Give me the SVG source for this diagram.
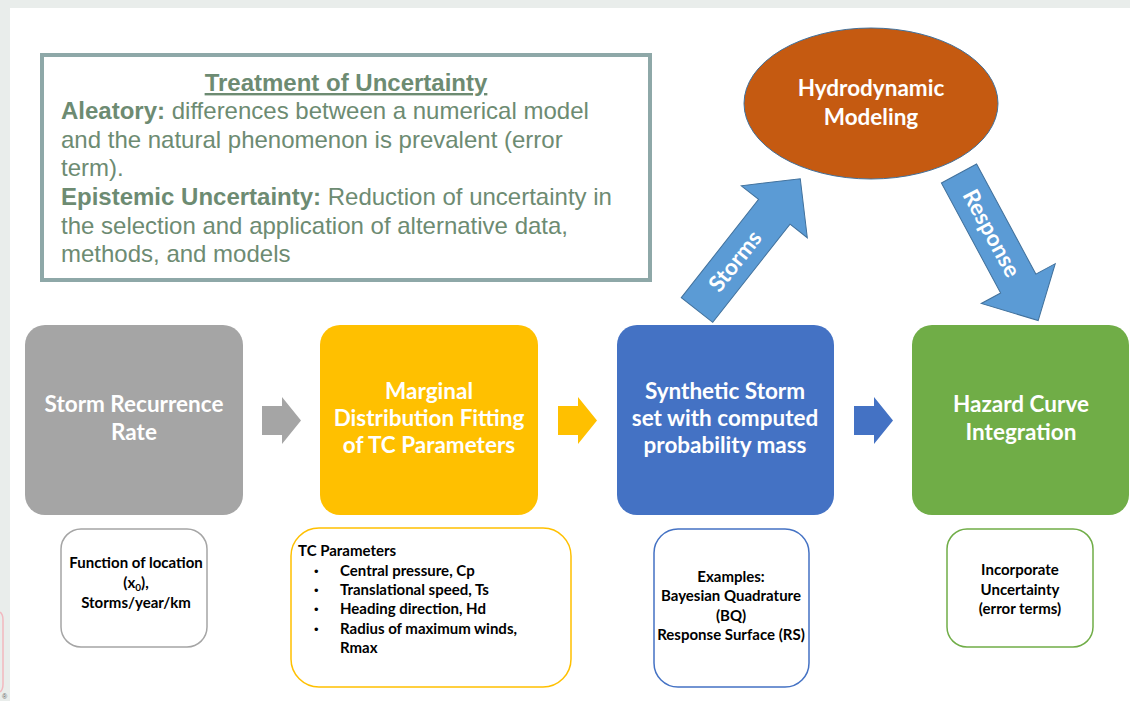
<svg xmlns="http://www.w3.org/2000/svg" width="1130" height="701" viewBox="0 0 1130 701">
<style>
.unc{font-family:"Liberation Sans",Arial,sans-serif;font-size:24px;fill:#6d8b72}
.b{font-weight:bold}
.hd{font-family:Lato,"Liberation Sans",sans-serif;font-weight:bold;font-size:22.5px;fill:#ffffff;text-anchor:middle}
.sm{font-family:Lato,"Liberation Sans",sans-serif;font-weight:bold;font-size:15px;fill:#000000}
.bul{font-family:"Liberation Sans",sans-serif;font-size:13px;fill:#000000}
.mid{text-anchor:middle}
.bar{fill:#5b9bd5;stroke:#41719c;stroke-width:1}
</style>
<defs>
<polygon id="bigArrow" points="0,-20 125,-20 125,-42 167,0 125,42 125,20 0,20"/>
<polygon id="smallArrow" points="0,-14.5 20,-14.5 20,-23.5 39,0 20,23.5 20,14.5 0,14.5"/>
</defs>
<rect x="0" y="0" width="1130" height="701" fill="#e9edeb"/>
<rect x="10" y="8" width="1120" height="693" fill="#ffffff"/>
<path d="M0,612 Q3,614 3,620 L3,684 Q3,690 0,692" fill="none" stroke="#f2b8bf" stroke-width="1.5"/>
<text x="2" y="699" font-family="Liberation Sans,sans-serif" font-size="7" fill="#666666">®</text>

<g id="uncertainty">
<rect x="42" y="55" width="608" height="225" fill="#ffffff" stroke="#8ea8a8" stroke-width="4"/>
<text class="unc b mid" x="346" y="91" text-decoration="underline">Treatment of Uncertainty</text>
<text class="unc" x="61" y="119"><tspan class="b">Aleatory:</tspan> differences between a numerical model</text>
<text class="unc" x="61" y="148">and the natural phenomenon is prevalent (error</text>
<text class="unc" x="61" y="176">term).</text>
<text class="unc" x="61" y="205"><tspan class="b">Epistemic Uncertainty:</tspan> Reduction of uncertainty in</text>
<text class="unc" x="61" y="234">the selection and application of alternative data,</text>
<text class="unc" x="61" y="262">methods, and models</text>
</g>

<g id="hydro">
<ellipse cx="871" cy="103.5" rx="127" ry="75.5" fill="#c55a11" stroke="#41719c" stroke-width="1"/>
<text class="hd" x="871" y="96" font-size="21.6">Hydrodynamic</text>
<text class="hd" x="871" y="125" font-size="21.6">Modeling</text>
</g>

<g id="storm-rate">
<rect x="25" y="325" width="218" height="190" rx="20" fill="#a5a5a5"/>
<text class="hd" x="134" y="412">Storm Recurrence</text>
<text class="hd" x="134" y="440">Rate</text>
</g>
<g id="marginal">
<rect x="320" y="325" width="218" height="190" rx="20" fill="#ffc000"/>
<text class="hd" x="429" y="399">Marginal</text>
<text class="hd" x="429" y="426">Distribution Fitting</text>
<text class="hd" x="429" y="453">of TC Parameters</text>
</g>
<g id="synthetic">
<rect x="617" y="325" width="217" height="190" rx="20" fill="#4472c4"/>
<text class="hd" x="725" y="399">Synthetic Storm</text>
<text class="hd" x="725" y="426">set with computed</text>
<text class="hd" x="725" y="453">probability mass</text>
</g>
<g id="hazard">
<rect x="912" y="325" width="217" height="190" rx="20" fill="#70ad47"/>
<text class="hd" x="1021" y="412">Hazard Curve</text>
<text class="hd" x="1021" y="440">Integration</text>
</g>

<g id="note-rate">
<rect x="61" y="529" width="146" height="118" rx="20" fill="#ffffff" stroke="#a5a5a5" stroke-width="1.5"/>
<text class="sm mid" x="136" y="568">Function of location</text>
<text class="sm mid" x="136" y="588">(x<tspan font-size="10" dy="3">0</tspan><tspan dy="-3">),</tspan></text>
<text class="sm mid" x="136" y="608">Storms/year/km</text>
</g>
<g id="note-tc">
<rect x="291" y="528" width="280" height="159" rx="28" fill="#ffffff" stroke="#ffc000" stroke-width="1.5"/>
<text class="sm" x="298" y="556">TC Parameters</text>
<text class="bul" x="314" y="576">•</text><text class="sm" x="340" y="576">Central pressure, Cp</text>
<text class="bul" x="314" y="595">•</text><text class="sm" x="340" y="595">Translational speed, Ts</text>
<text class="bul" x="314" y="614">•</text><text class="sm" x="340" y="614">Heading direction, Hd</text>
<text class="bul" x="314" y="634">•</text><text class="sm" x="340" y="634">Radius of maximum winds,</text>
<text class="sm" x="340" y="653">Rmax</text>
</g>
<g id="note-examples">
<rect x="654" y="529" width="155" height="158" rx="24" fill="#ffffff" stroke="#4472c4" stroke-width="1.5"/>
<text class="sm mid" x="731" y="582">Examples:</text>
<text class="sm mid" x="731" y="601">Bayesian Quadrature</text>
<text class="sm mid" x="731" y="621">(BQ)</text>
<text class="sm mid" x="731" y="640">Response Surface (RS)</text>
</g>
<g id="note-hazard">
<rect x="947" y="529" width="146" height="118" rx="20" fill="#ffffff" stroke="#70ad47" stroke-width="1.5"/>
<text class="sm mid" x="1020" y="575">Incorporate</text>
<text class="sm mid" x="1020" y="595">Uncertainty</text>
<text class="sm mid" x="1020" y="614">(error terms)</text>
</g>

<g id="connectors">
<use href="#smallArrow" x="262" y="420.5" fill="#a5a5a5"/>
<use href="#smallArrow" x="558" y="420.5" fill="#ffc000"/>
<use href="#smallArrow" x="854" y="420.5" fill="#4472c4"/>
<g transform="translate(697,310) rotate(-51.8)">
<use href="#bigArrow" class="bar"/>
<text class="hd" x="62" y="7.5" font-size="21.6">Storms</text>
</g>
<g transform="translate(959,173.5) rotate(61.7)">
<use href="#bigArrow" class="bar"/>
<text class="hd" x="68" y="7.5" font-size="21.6">Response</text>
</g>
</g>
</svg>
